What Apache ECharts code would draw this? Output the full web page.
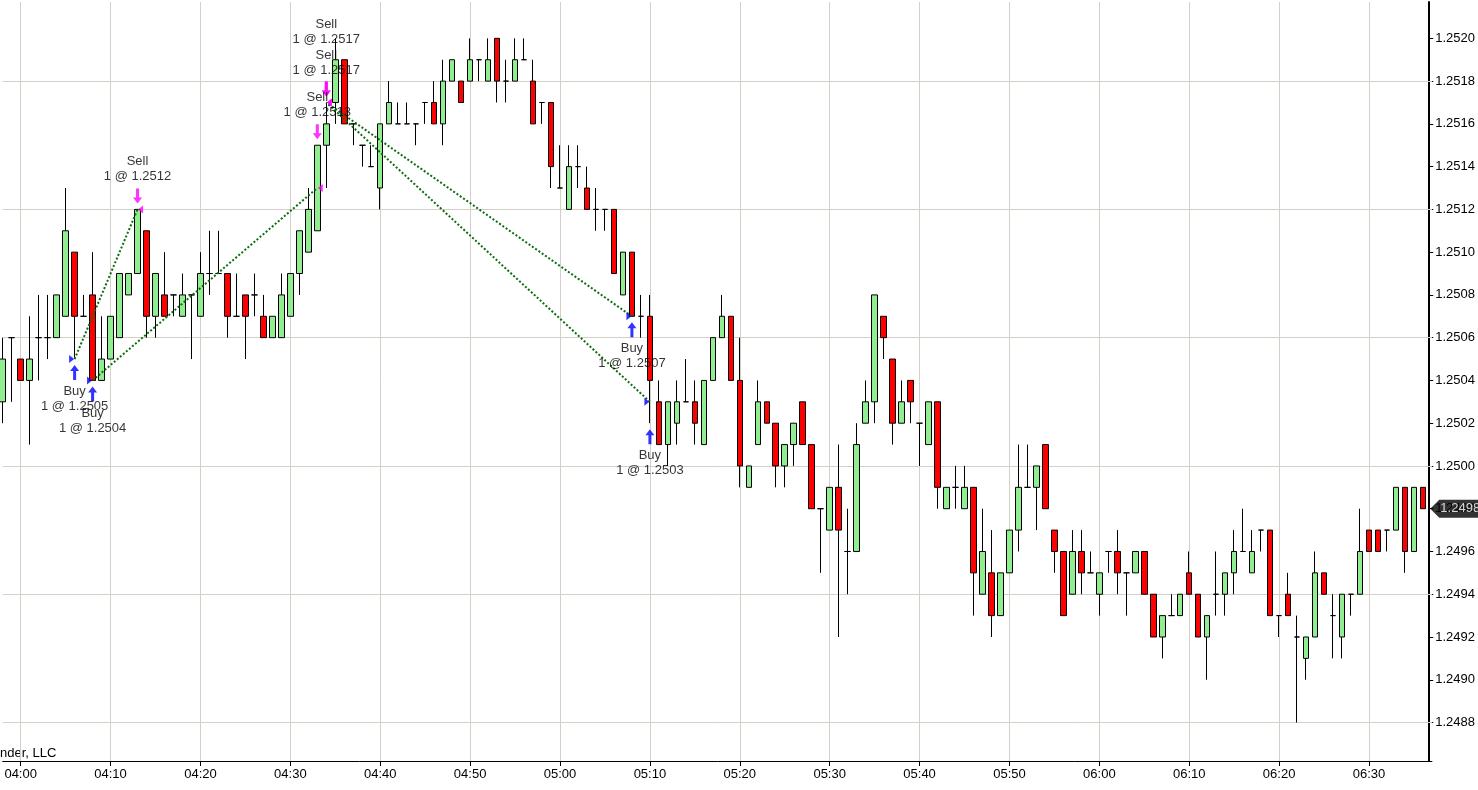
<!DOCTYPE html>
<html>
<head>
<meta charset="utf-8">
<script src="https://cdn.jsdelivr.net/npm/echarts@6/dist/echarts.min.js"></script>
<style>
html, body { margin: 0; padding: 0; background: #fff; }
#chart { width: 1478px; height: 790px; }
</style>
</head>
<body>
<div id="chart"></div>
<script>
// one-minute bars from 03:58 to 06:36
var firstBar = '03:58';

var opens = [
    1.2503, 1.2506, 1.2505, 1.2504, 1.2506, 1.2506, 1.2506, 1.2507, 1.2510, 1.2507,
    1.2508, 1.2504, 1.2505, 1.2506, 1.2508, 1.2509, 1.2511, 1.2507, 1.2508, 1.2508,
    1.2507, 1.2508, 1.2507, 1.2509, 1.2509, 1.2509, 1.2507, 1.2508, 1.2508, 1.2507,
    1.2506, 1.2506, 1.2507, 1.2509, 1.2510, 1.2511, 1.2515, 1.2517, 1.2519, 1.2516,
    1.2515, 1.2514, 1.2513, 1.2516, 1.2516, 1.2516, 1.2516, 1.2517, 1.2517, 1.2516,
    1.2518, 1.2518, 1.2518, 1.2519, 1.2518, 1.2520, 1.2518, 1.2518, 1.2519, 1.2518,
    1.2517, 1.2517, 1.2513, 1.2512, 1.2514, 1.2513, 1.2512, 1.2512, 1.2512, 1.2508,
    1.2510, 1.2507, 1.2507, 1.2503, 1.2501, 1.2502, 1.2503, 1.2503, 1.2501, 1.2504,
    1.2506, 1.2507, 1.2504, 1.2499, 1.2501, 1.2503, 1.2502, 1.2500, 1.2501, 1.2503,
    1.2501, 1.2498, 1.2497, 1.2499, 1.2496, 1.2496, 1.2502, 1.2503, 1.2507, 1.2505,
    1.2502, 1.2504, 1.2502, 1.2501, 1.2503, 1.2498, 1.2499, 1.2498, 1.2499, 1.2494,
    1.2495, 1.2493, 1.2495, 1.2497, 1.2499, 1.2499, 1.2501, 1.2497, 1.2496, 1.2494,
    1.2496, 1.2495, 1.2494, 1.2496, 1.2496, 1.2495, 1.2495, 1.2496, 1.2494, 1.2492,
    1.2493, 1.2493, 1.2495, 1.2494, 1.2492, 1.2494, 1.2494, 1.2495, 1.2496, 1.2495,
    1.2497, 1.2497, 1.2493, 1.2494, 1.2492, 1.2491, 1.2492, 1.2495, 1.2493, 1.2492,
    1.2494, 1.2494, 1.2497, 1.2497, 1.2497, 1.2497, 1.2499, 1.2496, 1.2499
];
var closes = [
    1.2505, 1.2506, 1.2504, 1.2505, 1.2506, 1.2506, 1.2508, 1.2511, 1.2507, 1.2507,
    1.2504, 1.2505, 1.2507, 1.2509, 1.2509, 1.2512, 1.2507, 1.2509, 1.2507, 1.2508,
    1.2508, 1.2508, 1.2509, 1.2509, 1.2509, 1.2507, 1.2507, 1.2507, 1.2508, 1.2506,
    1.2507, 1.2508, 1.2509, 1.2511, 1.2512, 1.2515, 1.2516, 1.2519, 1.2516, 1.2516,
    1.2515, 1.2514, 1.2516, 1.2517, 1.2516, 1.2516, 1.2516, 1.2517, 1.2516, 1.2518,
    1.2519, 1.2517, 1.2519, 1.2519, 1.2519, 1.2518, 1.2518, 1.2519, 1.2519, 1.2516,
    1.2517, 1.2514, 1.2513, 1.2514, 1.2514, 1.2512, 1.2512, 1.2512, 1.2509, 1.2510,
    1.2507, 1.2507, 1.2504, 1.2501, 1.2503, 1.2503, 1.2503, 1.2502, 1.2504, 1.2506,
    1.2507, 1.2504, 1.2500, 1.2500, 1.2503, 1.2502, 1.2500, 1.2501, 1.2502, 1.2501,
    1.2498, 1.2498, 1.2499, 1.2497, 1.2496, 1.2501, 1.2503, 1.2508, 1.2506, 1.2502,
    1.2503, 1.2503, 1.2502, 1.2503, 1.2499, 1.2499, 1.2499, 1.2499, 1.2495, 1.2496,
    1.2493, 1.2495, 1.2497, 1.2499, 1.2499, 1.2500, 1.2498, 1.2496, 1.2493, 1.2496,
    1.2495, 1.2495, 1.2495, 1.2496, 1.2495, 1.2495, 1.2496, 1.2494, 1.2492, 1.2493,
    1.2493, 1.2494, 1.2494, 1.2492, 1.2493, 1.2494, 1.2495, 1.2496, 1.2496, 1.2496,
    1.2497, 1.2493, 1.2493, 1.2493, 1.2492, 1.2492, 1.2495, 1.2494, 1.2493, 1.2494,
    1.2494, 1.2496, 1.2496, 1.2496, 1.2497, 1.2499, 1.2496, 1.2499, 1.2498
];
var lows = [
    1.2502, 1.2503, 1.2504, 1.2501, 1.2504, 1.2505, 1.2506, 1.2507, 1.2505, 1.2507,
    1.2504, 1.2504, 1.2505, 1.2506, 1.2508, 1.2509, 1.2506, 1.2506, 1.2507, 1.2507,
    1.2507, 1.2505, 1.2507, 1.2508, 1.2509, 1.2506, 1.2507, 1.2505, 1.2507, 1.2506,
    1.2506, 1.2506, 1.2507, 1.2508, 1.2510, 1.2511, 1.2513, 1.2516, 1.2516, 1.2515,
    1.2514, 1.2514, 1.2512, 1.2516, 1.2516, 1.2516, 1.2515, 1.2516, 1.2516, 1.2515,
    1.2518, 1.2517, 1.2518, 1.2518, 1.2518, 1.2517, 1.2517, 1.2518, 1.2519, 1.2516,
    1.2516, 1.2513, 1.2513, 1.2512, 1.2513, 1.2512, 1.2511, 1.2511, 1.2509, 1.2508,
    1.2507, 1.2506, 1.2502, 1.2501, 1.2500, 1.2501, 1.2503, 1.2501, 1.2501, 1.2504,
    1.2506, 1.2504, 1.2499, 1.2499, 1.2501, 1.2502, 1.2499, 1.2499, 1.2500, 1.2501,
    1.2498, 1.2495, 1.2497, 1.2492, 1.2494, 1.2496, 1.2502, 1.2502, 1.2505, 1.2501,
    1.2502, 1.2502, 1.2500, 1.2501, 1.2498, 1.2498, 1.2498, 1.2498, 1.2493, 1.2494,
    1.2492, 1.2493, 1.2495, 1.2496, 1.2499, 1.2497, 1.2498, 1.2495, 1.2493, 1.2494,
    1.2494, 1.2495, 1.2493, 1.2495, 1.2494, 1.2493, 1.2495, 1.2494, 1.2492, 1.2491,
    1.2493, 1.2493, 1.2494, 1.2492, 1.2490, 1.2493, 1.2493, 1.2494, 1.2496, 1.2495,
    1.2496, 1.2493, 1.2492, 1.2493, 1.2488, 1.2490, 1.2492, 1.2494, 1.2491, 1.2491,
    1.2493, 1.2494, 1.2496, 1.2496, 1.2496, 1.2497, 1.2495, 1.2496, 1.2498
];
var highs = [
    1.2506, 1.2506, 1.2505, 1.2507, 1.2508, 1.2508, 1.2508, 1.2513, 1.2510, 1.2508,
    1.2510, 1.2507, 1.2507, 1.2509, 1.2509, 1.2512, 1.2511, 1.2509, 1.2510, 1.2508,
    1.2509, 1.2508, 1.2510, 1.2511, 1.2511, 1.2509, 1.2509, 1.2508, 1.2509, 1.2508,
    1.2507, 1.2509, 1.2509, 1.2511, 1.2513, 1.2515, 1.2517, 1.2520, 1.2519, 1.2516,
    1.2515, 1.2515, 1.2516, 1.2518, 1.2517, 1.2517, 1.2516, 1.2517, 1.2518, 1.2519,
    1.2519, 1.2518, 1.2520, 1.2519, 1.2520, 1.2520, 1.2519, 1.2520, 1.2520, 1.2519,
    1.2517, 1.2517, 1.2515, 1.2515, 1.2515, 1.2514, 1.2513, 1.2512, 1.2512, 1.2510,
    1.2510, 1.2508, 1.2508, 1.2504, 1.2503, 1.2504, 1.2505, 1.2504, 1.2504, 1.2506,
    1.2508, 1.2507, 1.2506, 1.2500, 1.2504, 1.2503, 1.2502, 1.2501, 1.2502, 1.2503,
    1.2501, 1.2498, 1.2499, 1.2501, 1.2498, 1.2502, 1.2504, 1.2508, 1.2507, 1.2505,
    1.2504, 1.2504, 1.2502, 1.2503, 1.2503, 1.2499, 1.2500, 1.2500, 1.2499, 1.2498,
    1.2497, 1.2495, 1.2497, 1.2501, 1.2501, 1.2500, 1.2501, 1.2497, 1.2496, 1.2497,
    1.2497, 1.2496, 1.2495, 1.2496, 1.2497, 1.2495, 1.2496, 1.2496, 1.2494, 1.2493,
    1.2494, 1.2494, 1.2496, 1.2494, 1.2493, 1.2496, 1.2495, 1.2497, 1.2498, 1.2497,
    1.2497, 1.2497, 1.2493, 1.2495, 1.2493, 1.2492, 1.2496, 1.2495, 1.2494, 1.2494,
    1.2494, 1.2498, 1.2497, 1.2497, 1.2497, 1.2499, 1.2499, 1.2499, 1.2499
];

// price axis
var priceMin = 1.24862;
var priceMax = 1.25217;
var priceTicks = [1.2488, 1.2490, 1.2492, 1.2494, 1.2496, 1.2498, 1.2500, 1.2502,
                  1.2504, 1.2506, 1.2508, 1.2510, 1.2512, 1.2514, 1.2516, 1.2518, 1.2520];
var gridPrices = [1.2488, 1.2494, 1.2500, 1.2506, 1.2512, 1.2518];

// executions
var buyTimes = ['04:06', '04:08', '05:08', '05:10'];
var buyPrices = [1.2505, 1.2504, 1.2507, 1.2503];
var sellTimes = ['04:13', '04:33', '04:34', '04:34'];
var sellPrices = [1.2512, 1.2513, 1.2517, 1.2517];
// [buy, sell] pairs joined by the dotted trade line
var tradePairs = [[0, 0], [1, 1], [2, 2], [3, 3]];

var copyright = 'nder, LLC';

// ---------------------------------------------------------------------------

function hhmm(m) {
    var h = Math.floor(m / 60), mm = m % 60;
    return (h < 10 ? '0' : '') + h + ':' + (mm < 10 ? '0' : '') + mm;
}

// first bar sits on the left edge (half cut), one empty slot after the last bar
var startMin = parseInt(firstBar.slice(0, 2), 10) * 60 + parseInt(firstBar.slice(3), 10);
var times = [];
var candles = [];
for (var i = 0; i <= opens.length; i++) {
    times.push(hhmm(startMin + i));
    if (i >= opens.length) {
        candles.push(['-', '-', '-', '-']);
    } else {
        candles.push([opens[i], closes[i], lows[i], highs[i]]);
    }
}
function slot(t) { return times.indexOf(t); }
function tenMinute(idx, val) { return val.slice(-1) === '0'; }

var font = 'Liberation Sans';
var upArrow = 'path://M4.5,0 L9,6 L6,6 L6,15 L3,15 L3,6 L0,6 Z';
var downArrow = 'path://M3,0 L6,0 L6,9 L9,9 L4.5,15 L0,9 L3,9 Z';

var buyArrows = buyTimes.map(function (t, k) {
    var s = slot(t);
    return { value: [s, lows[s]], label: { formatter: 'Buy\n1 @ ' + buyPrices[k].toFixed(4) } };
});
var sellArrows = sellTimes.map(function (t, k) {
    var s = slot(t);
    var stack = sellTimes.slice(0, k).filter(function (x) { return x === t; }).length;
    return {
        value: [s, highs[s]],
        label: { formatter: 'Sell\n1 @ ' + sellPrices[k].toFixed(4), offset: [0, -31 * stack] }
    };
});
var buyFills = buyTimes.map(function (t, k) { return [slot(t), buyPrices[k]]; });
var sellFills = sellTimes.map(function (t, k) { return [slot(t), sellPrices[k]]; });
var tradeLines = tradePairs.map(function (p) {
    return { coords: [[slot(buyTimes[p[0]]), buyPrices[p[0]]], [slot(sellTimes[p[1]]), sellPrices[p[1]]]] };
});
var lastSlot = opens.length - 1;
var lastClose = closes[closes.length - 1];

var chart = echarts.init(document.getElementById('chart'));

var option = {
    animation: false,
    backgroundColor: '#fff',
    grid: { left: 2.7, right: 44.3, top: 2, bottom: 29 },
    xAxis: {
        type: 'category',
        data: times,
        boundaryGap: false,
        axisLine: { lineStyle: { color: '#000', width: 1 } },
        axisTick: { interval: tenMinute, length: 5, lineStyle: { color: '#000' } },
        axisLabel: { interval: tenMinute, color: '#000', fontFamily: font, fontSize: 13, margin: 7 },
        splitLine: { show: true, interval: tenMinute, lineStyle: { color: '#d4d0c8', width: 1 } }
    },
    yAxis: {
        type: 'value',
        position: 'right',
        offset: -2.7,
        min: priceMin,
        max: priceMax,
        axisLine: { show: true, lineStyle: { color: '#000', width: 2 } },
        axisTick: { show: true, customValues: priceTicks, length: 4, lineStyle: { color: '#000' } },
        axisLabel: {
            customValues: priceTicks, color: '#000', fontFamily: font, fontSize: 13, margin: 6,
            formatter: function (v) { return v.toFixed(4); }
        },
        splitLine: { show: false }
    },
    graphic: [{
        type: 'text', left: 0, top: 747,
        style: { text: copyright, fill: '#000', font: '13px ' + font }
    }],
    series: [
        {
            type: 'candlestick',
            data: candles,
            barWidth: 6,
            clip: false,
            itemStyle: {
                color: '#90ee90', color0: '#ff0000',
                borderColor: '#000', borderColor0: '#000', borderColorDoji: '#000',
                borderWidth: 1
            },
            markLine: {
                silent: true,
                z: 1,
                precision: 4,
                symbol: ['none', 'none'],
                label: { show: false },
                lineStyle: { color: '#d4d0c8', width: 1, type: 'solid' },
                emphasis: { disabled: true },
                data: gridPrices.map(function (v) { return { yAxis: v }; })
            }
        },
        {
            type: 'lines',
            coordinateSystem: 'cartesian2d',
            z: 4,
            silent: true,
            lineStyle: { color: '#0b6e0b', width: 2, type: 'dotted', opacity: 1 },
            data: tradeLines
        },
        {
            type: 'scatter',
            z: 5, clip: false, silent: true,
            symbol: 'path://M0,0 L5,4 L0,8 Z', symbolSize: [5, 8], symbolOffset: [-3, 0],
            itemStyle: { color: '#0000ff' },
            data: buyFills
        },
        {
            type: 'scatter',
            z: 5, clip: false, silent: true,
            symbol: 'path://M5,0 L0,4 L5,8 Z', symbolSize: [5, 8], symbolOffset: [3, 0],
            itemStyle: { color: '#ff00ff' },
            data: sellFills
        },
        {
            type: 'scatter',
            z: 5, clip: false, silent: true,
            symbol: upArrow, symbolSize: [9, 15], symbolOffset: [0, 13.5],
            itemStyle: { color: '#0000ff' },
            label: { show: true, position: 'bottom', distance: 4, color: '#000',
                     fontFamily: font, fontSize: 13, lineHeight: 15 },
            data: buyArrows
        },
        {
            type: 'scatter',
            z: 5, clip: false, silent: true,
            symbol: downArrow, symbolSize: [9, 15], symbolOffset: [0, -13.5],
            itemStyle: { color: '#ff00ff' },
            label: { show: true, position: 'top', distance: 4, color: '#000',
                     fontFamily: font, fontSize: 13, lineHeight: 15 },
            data: sellArrows
        },
        {
            // last price tag on the price axis
            type: 'scatter',
            z: 6, clip: false, silent: true,
            symbol: 'path://M0,9 L9,0 L60,0 L60,18 L9,18 Z', symbolSize: [60, 18], symbolOffset: [37.3, 0],
            itemStyle: { color: '#000' },
            label: { show: true, position: 'inside', offset: [0, 0], color: '#fff',
                     fontFamily: font, fontSize: 13,
                     formatter: function () { return lastClose.toFixed(4); } },
            data: [[lastSlot, lastClose]]
        }
    ]
};

chart.setOption(option);
</script>
</body>
</html>
